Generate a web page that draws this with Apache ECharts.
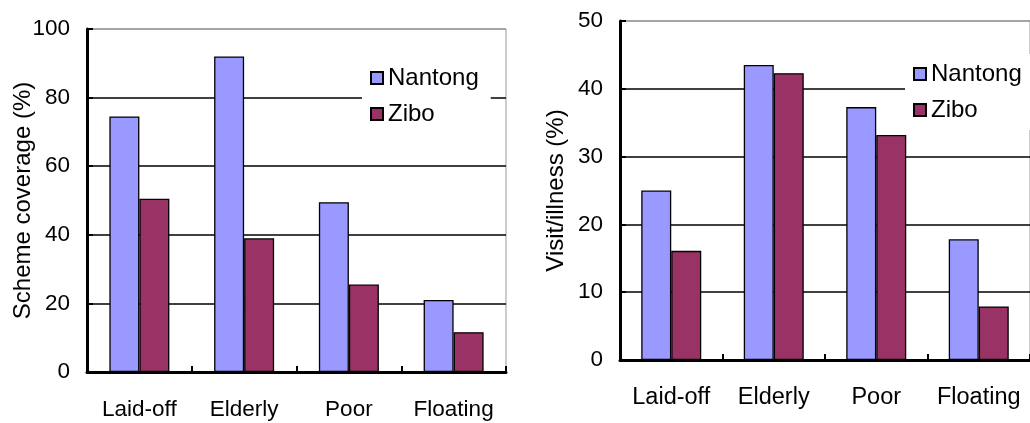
<!DOCTYPE html>
<html><head><meta charset="utf-8">
<script src="https://cdn.jsdelivr.net/npm/echarts@6/dist/echarts.min.js"></script>
<style>html,body{margin:0;padding:0;background:#fff}#c{width:1030px;height:423px}</style>
</head><body><div id="c"></div>
<script>
const categories = ['Laid-off', 'Elderly', 'Poor', 'Floating'];
const coverageNantong = [74.5, 92, 49.5, 21];
const coverageZibo = [50.5, 39, 25.5, 11.6];
const visitNantong = [25, 43.5, 37.3, 17.8];
const visitZibo = [16.1, 42.3, 33.2, 7.9];
const seriesNames = ['Nantong', 'Zibo'];
const leftTicks = [0, 20, 40, 60, 80, 100];
const rightTicks = [0, 10, 20, 30, 40, 50];

const FONT = 'Liberation Sans, Arial, sans-serif';
const colors = ['#9999FF', '#993366'];
const chart = echarts.init(document.getElementById('c'), null, {renderer: 'canvas'});

function yAxisCfg(idx, ticks, name) {
  const interval = ticks[1] - ticks[0];
  return {
    gridIndex: idx, type: 'value', min: ticks[0], max: ticks[ticks.length - 1], interval: interval,
    name: name, nameLocation: 'middle', nameGap: 52, nameMoveOverlap: false,
    nameTextStyle: {fontFamily: FONT, fontSize: 24, color: '#000'},
    axisLine: {show: true, lineStyle: {color: '#000', width: 3}},
    axisTick: {show: true, inside: true, length: 6, lineStyle: {color: '#000', width: 2}},
    axisLabel: {fontFamily: FONT, fontSize: 22.5, color: '#000', margin: 17},
    splitLine: {show: true, lineStyle: {color: ['#000', '#000', '#000', '#000', '#000', '#999'], width: 1.5}}
  };
}
function xAxisCfg(idx, fs) {
  return {
    gridIndex: idx, type: 'category', data: categories, boundaryGap: true,
    axisLine: {show: true, lineStyle: {color: '#000', width: 3}},
    axisTick: {show: true, inside: true, length: 6, lineStyle: {color: '#000', width: 2}},
    axisLabel: {fontFamily: FONT, fontSize: fs, color: '#000', margin: 26, interval: 0}
  };
}
function barSeries(name, data, idx, color) {
  return {
    name: name, type: 'bar', xAxisIndex: idx, yAxisIndex: idx, data: data,
    barWidth: 30, barGap: '0%',
    itemStyle: {color: color, borderColor: '#000', borderWidth: 1.3}
  };
}
function legendCfg(left, top) {
  return {
    data: seriesNames, orient: 'vertical', left: left, top: top,
    backgroundColor: '#fff', padding: [8, 12, 8, 8], itemGap: 12,
    itemWidth: 12, itemHeight: 12, icon: 'rect',
    textStyle: {fontFamily: FONT, fontSize: 24, color: '#000', padding: [0, 0, 0, 0]},
    z: 10
  };
}

chart.setOption({
  animation: false,
  backgroundColor: '#fff',
  grid: [
    {left: 87, top: 29, right: 524, bottom: 51, show: true, borderColor: '#999', borderWidth: 1},
    {left: 620, top: 21, right: -11, bottom: 63, show: true, borderColor: '#999', borderWidth: 1}
  ],
  legend: [legendCfg(362, 58), legendCfg(905, 54)],
  xAxis: [xAxisCfg(0, 22.5), xAxisCfg(1, 23.5)],
  yAxis: [yAxisCfg(0, leftTicks, 'Scheme coverage (%)'), yAxisCfg(1, rightTicks, 'Visit/illness (%)')],
  series: [
    barSeries(seriesNames[0], coverageNantong, 0, colors[0]),
    barSeries(seriesNames[1], coverageZibo, 0, colors[1]),
    barSeries(seriesNames[0], visitNantong, 1, colors[0]),
    barSeries(seriesNames[1], visitZibo, 1, colors[1])
  ]
});
</script></body></html>
